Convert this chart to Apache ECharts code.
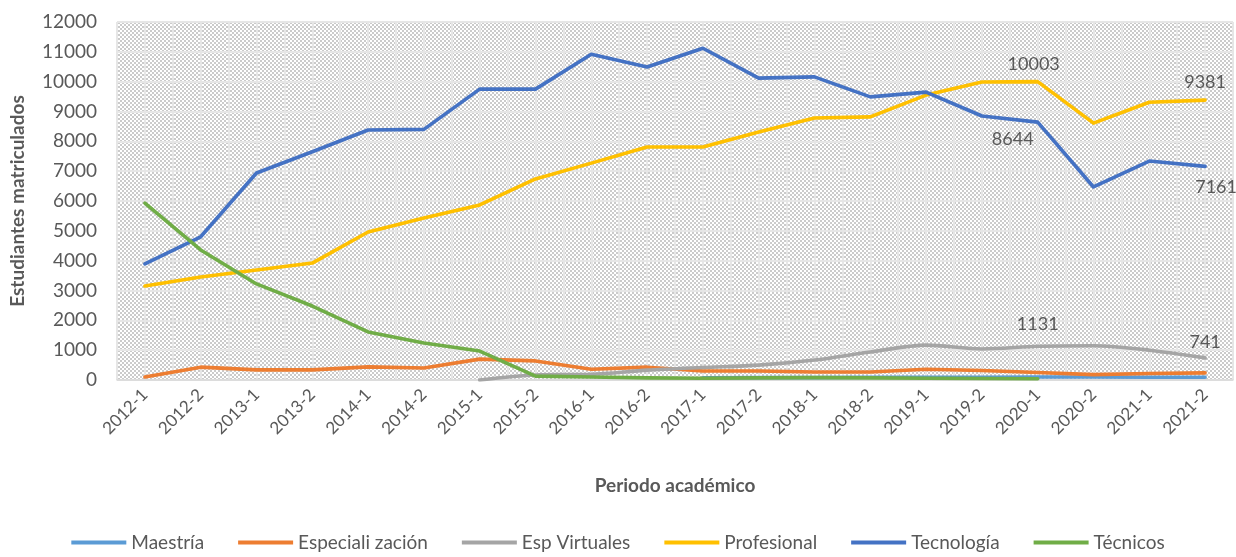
<!DOCTYPE html>
<html>
<head>
<meta charset="utf-8">
<script src="https://cdn.jsdelivr.net/npm/echarts@6/dist/echarts.min.js"></script>
<style>
  html, body { margin: 0; padding: 0; background: #fff; }
  #main { width: 1236px; height: 557px; }
</style>
</head>
<body>
<div id="main"></div>
<script>
// periodos académicos
var periodos = ['2012-1', '2012-2', '2013-1', '2013-2', '2014-1', '2014-2', '2015-1', '2015-2', '2016-1', '2016-2',
  '2017-1', '2017-2', '2018-1', '2018-2', '2019-1', '2019-2', '2020-1', '2020-2', '2021-1', '2021-2']

var maestria = [null, null, null, null, null, null, null, null, null, null,
  70, 80, 80, 90, 90, 90, 100, 100, 90, 90]
var especializacion = [100, 430, 340, 340, 440, 400, 700, 640, 360, 430,
  300, 300, 270, 270, 360, 320, 250, 180, 220, 240]
var espVirtuales = [null, null, null, null, null, null, 0, 170, 190, 330,
  420, 500, 670, 940, 1170, 1040, 1131, 1150, 1000, 741]
var profesional = [3150, 3450, 3690, 3920, 4960, 5430, 5870, 6740, 7270, 7810,
  7810, 8310, 8780, 8820, 9550, 9990, 10003, 8610, 9310, 9381]
var tecnologia = [3890, 4800, 6940, 7650, 8380, 8400, 9750, 9750, 10920, 10490,
  11120, 10120, 10160, 9490, 9650, 8850, 8644, 6470, 7340, 7161]
var tecnicos = [5930, 4360, 3220, 2480, 1610, 1240, 970, 130, 100, 70,
  60, 70, 80, 70, 60, 50, 40, null, null, null]

// etiquetas de datos visibles: serie -> índice
var etiquetas = [
  { serie: 'Profesional', idx: 16, pos: 'top', offset: [-4, -3] },
  { serie: 'Profesional', idx: 19, pos: 'top', offset: [0, -4] },
  { serie: 'Tecnología', idx: 16, pos: 'bottom', offset: [-25, 3] },
  { serie: 'Tecnología', idx: 19, pos: 'bottom', offset: [11, 7] },
  { serie: 'Esp Virtuales', idx: 16, pos: 'top', offset: [0, -8] },
  { serie: 'Esp Virtuales', idx: 19, pos: 'top', offset: [0, -2] }
]

var gris = '#595959'
var fuente = 'Lato'

// fondo rayado del área de trazado
function trama () {
  var c = document.createElement('canvas')
  c.width = 4
  c.height = 4
  var ctx = c.getContext('2d')
  ctx.fillStyle = '#ffffff'
  ctx.fillRect(0, 0, 4, 4)
  ctx.fillStyle = '#cbcbcb'
  for (var x = 0; x < 4; x++) {
    for (var y = 0; y < 4; y++) {
      if (((x >> 1) + (y >> 1)) % 2 === 0) ctx.fillRect(x, y, 1, 1)
    }
  }
  return c
}

function datos (nombre, valores) {
  return valores.map(function (v, i) {
    for (var k = 0; k < etiquetas.length; k++) {
      var e = etiquetas[k]
      if (e.serie === nombre && e.idx === i) {
        return {
          value: v,
          label: {
            show: true, position: e.pos, offset: e.offset,
            color: gris, fontSize: 18, fontFamily: fuente
          }
        }
      }
    }
    return v
  })
}

function linea (nombre, valores, color, smooth) {
  return {
    name: nombre,
    type: 'line',
    xAxisIndex: 0,
    data: datos(nombre, valores),
    symbol: 'circle',
    symbolSize: 0,
    showSymbol: true,
    smooth: smooth || false,
    lineStyle: { width: 3.6, color: color, cap: 'round', join: 'round' },
    itemStyle: { color: color },
    emphasis: { disabled: true },
    animation: false
  }
}

var medias = []
for (var i = 0; i < periodos.length * 2; i++) medias.push('')

var chart = echarts.init(document.getElementById('main'))
chart.setOption({
  animation: false,
  textStyle: { fontFamily: fuente },
  grid: {
    left: 113, right: 3, top: 22, bottom: 177,
    show: true,
    borderWidth: 0,
    backgroundColor: { image: trama(), repeat: 'repeat' }
  },
  legend: {
    bottom: 0,
    left: 'center',
    itemWidth: 55,
    itemHeight: 4,
    itemGap: 34,
    icon: 'rect',
    textStyle: { color: gris, fontSize: 19, fontFamily: fuente },
    data: ['Maestría', 'Especiali zación', 'Esp Virtuales', 'Profesional', 'Tecnología', 'Técnicos']
  },
  xAxis: [
    {
      type: 'category',
      data: periodos,
      boundaryGap: true,
      name: 'Periodo académico',
      nameLocation: 'middle',
      nameGap: 96,
      nameTextStyle: { color: gris, fontSize: 19, fontWeight: 'bold', fontFamily: fuente },
      axisLine: { lineStyle: { color: '#d9d9d9', width: 1.5 } },
      axisTick: { show: false },
      axisLabel: { rotate: 45, interval: 0, color: gris, fontSize: 17, margin: 12, fontFamily: fuente },
      splitLine: { show: false }
    },
    {
      type: 'category',
      data: medias,
      boundaryGap: true,
      position: 'bottom',
      axisLine: { show: false },
      axisTick: { show: false },
      axisLabel: { show: false },
      splitLine: { show: true, interval: 0, lineStyle: { color: '#e6e6e6', width: 2 } }
    }
  ],
  yAxis: {
    type: 'value',
    min: 0,
    max: 12000,
    interval: 1000,
    name: 'Estudiantes matriculados',
    nameLocation: 'middle',
    nameRotate: 90,
    nameGap: 90,
    nameTextStyle: { color: gris, fontSize: 19, fontWeight: 'bold', fontFamily: fuente },
    axisLine: { show: false },
    axisTick: { show: false },
    axisLabel: {
      color: gris, fontSize: 19, margin: 20, fontFamily: fuente,
      formatter: function (v) { return String(v) }
    },
    splitLine: { lineStyle: { color: '#e6e6e6', width: 2 } }
  },
  series: [
    linea('Maestría', maestria, '#5b9bd5'),
    linea('Especiali zación', especializacion, '#ed7d31'),
    linea('Esp Virtuales', espVirtuales, '#a5a5a5', 0.3),
    linea('Profesional', profesional, '#ffc000'),
    linea('Tecnología', tecnologia, '#4472c4'),
    linea('Técnicos', tecnicos, '#70ad47')
  ]
})
</script>
</body>
</html>
